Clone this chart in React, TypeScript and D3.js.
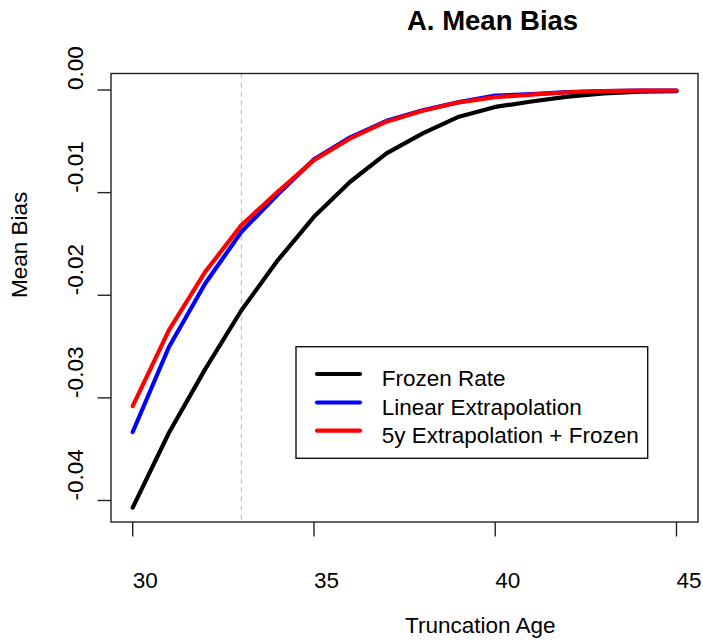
import React from "react";
import * as d3 from "d3";

const ages = [30, 31, 32, 33, 34, 35, 36, 37, 38, 39, 40, 41, 42, 43, 44, 45];
const frozenRate = [-0.0407, -0.0334, -0.0272, -0.02146, -0.01660, -0.01236, -0.00894, -0.00618, -0.00423, -0.0026, -0.00165, -0.00112, -0.00065, -0.00033, -0.00015, -0.0001];
const linearExtrap = [-0.03333, -0.02504, -0.01886, -0.01382, -0.01018, -0.00676, -0.00462, -0.00300, -0.00198, -0.00118, -0.00055, -0.0004, -0.0002, -0.0001, -0.00005, -0.00005];
const fiveYearFrozen = [-0.0308, -0.0234, -0.01772, -0.01317, -0.00992, -0.00683, -0.00472, -0.00309, -0.00202, -0.0012, -0.0007, -0.00045, -0.00022, -0.0001, -0.00006, -0.00005];
const xTicks = [30, 35, 40, 45];
const yTicks = [0, -0.01, -0.02, -0.03, -0.04];
const yTickLabels = ["0.00", "-0.01", "-0.02", "-0.03", "-0.04"];
const seriesNames = ["Frozen Rate", "Linear Extrapolation", "5y Extrapolation + Frozen"];
const seriesColors = ["#000000", "#0000ff", "#ff0000"];
const truncationMarker = 33;

export default function App() {
  const W = 703, H = 643;
  const box = { l: 111, t: 73.5, r: 698, b: 522 };
  const x = d3.scaleLinear().domain([30, 45]).range([132.7, 676.5]);
  const y = d3.scaleLinear().domain([0, -0.04]).range([90, 500.5]);
  const series = [frozenRate, linearExtrap, fiveYearFrozen];
  const line = d3
    .line<[number, number]>()
    .x((d) => x(d[0]))
    .y((d) => y(d[1]));
  const font = "'Liberation Sans', Arial, Helvetica, sans-serif";
  const fs = 22.5;
  const leg = { l: 296, t: 346.7, r: 647.7, b: 458.3 };
  const legRows = [374, 402.5, 430.7];

  return (
    <svg
      width={W}
      height={H}
      style={{ position: "absolute", left: 0, top: 0, background: "#fff" }}
      fontFamily={font}
    >
      <rect x={0} y={0} width={W} height={H} fill="#fff" />
      <text x={407} y={29.5} fontSize={27.5} fontWeight="bold" fill="#000">
        A. Mean Bias
      </text>
      <line
        x1={x(truncationMarker)}
        x2={x(truncationMarker)}
        y1={box.t}
        y2={box.b}
        stroke="#c4c4c4"
        strokeWidth={1.3}
        strokeDasharray="5,4"
      />
      {series.map((s, i) => (
        <path
          key={i}
          d={line(ages.map((a, j) => [a, s[j]] as [number, number])) || ""}
          fill="none"
          stroke={seriesColors[i]}
          strokeWidth={4.2}
          strokeLinecap="round"
          strokeLinejoin="round"
        />
      ))}
      <rect
        x={box.l}
        y={box.t}
        width={box.r - box.l}
        height={box.b - box.t}
        fill="none"
        stroke="#222"
        strokeWidth={1.4}
      />
      {xTicks.map((t) => (
        <g key={t}>
          <line x1={x(t)} x2={x(t)} y1={box.b} y2={box.b + 14.5} stroke="#222" strokeWidth={1.4} />
          <text x={x(t)} y={588} fontSize={fs} fill="#000">
            {t}
          </text>
        </g>
      ))}
      {yTicks.map((t, i) => (
        <g key={t}>
          <line x1={box.l - 13.5} x2={box.l} y1={y(t)} y2={y(t)} stroke="#222" strokeWidth={1.4} />
          <text
            transform={`translate(83.3,${y(t)}) rotate(-90)`}
            fontSize={fs}
            fill="#000"
          >
            {yTickLabels[i]}
          </text>
        </g>
      ))}
      <text x={405} y={633} fontSize={fs} fill="#000">
        Truncation Age
      </text>
      <text transform={`translate(26.7,298) rotate(-90)`} fontSize={fs} fill="#000">
        Mean Bias
      </text>
      <rect
        x={leg.l}
        y={leg.t}
        width={leg.r - leg.l}
        height={leg.b - leg.t}
        fill="#fff"
        stroke="#111"
        strokeWidth={1.4}
      />
      {seriesNames.map((n, i) => (
        <g key={n}>
          <line
            x1={317}
            x2={360}
            y1={legRows[i]}
            y2={legRows[i]}
            stroke={seriesColors[i]}
            strokeWidth={4.2}
            strokeLinecap="round"
          />
          <text x={381.7} y={legRows[i] + 12} fontSize={fs} fill="#000">
            {n}
          </text>
        </g>
      ))}
    </svg>
  );
}
